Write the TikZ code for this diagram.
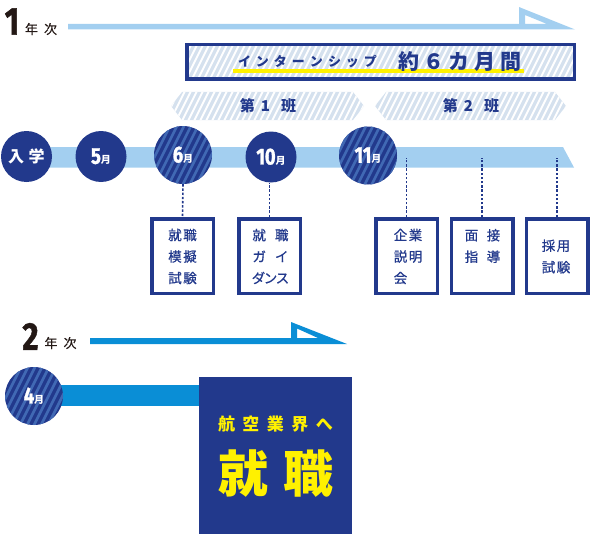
\documentclass[tikz,border=0pt]{standalone}
\usepackage{fontspec}
\setmainfont{Noto Sans CJK JP}
\newfontfamily\numfont{Fira Sans}[FakeStretch=0.8, FakeBold=1.2]
\newfontfamily\jpmid{Noto Sans CJK JP}[FakeBold=0.6]
\ExplSyntaxOn
\NewDocumentCommand\spaced{mm}{
  \bool_set_true:N \l_tmpa_bool
  \tl_map_inline:nn {#2}{
    \bool_if:NF \l_tmpa_bool {\hspace{#1}}
    \bool_set_false:N \l_tmpa_bool
    ##1
  }
}
\ExplSyntaxOff
\definecolor{navy}{HTML}{22398C}
\definecolor{stripeblue}{HTML}{4169B4}
\definecolor{lightband}{HTML}{A3CFF0}
\definecolor{hatchbg}{HTML}{D5E1EE}
\definecolor{blueii}{HTML}{0A8ED6}
\definecolor{yellowc}{HTML}{FFF100}
\definecolor{darktext}{HTML}{231815}
\newcommand\monthlabel[1]{{\numfont\bfseries\fontsize{23}{23}\selectfont #1}{\bfseries\fontsize{10}{10}\selectfont 月}}
\begin{document}
\begin{tikzpicture}[x=1pt,y=-1pt,
  navyhatch/.style={fill=navy, path picture={
     \begin{scope}[shift={(path picture bounding box.center)}]
       \foreach \i in {-84,-77,...,84} \draw[stripeblue, line width=2.6] (\i-20,40) -- (\i+20,-40);
     \end{scope}}},
  lighthatch/.style={fill=hatchbg, path picture={
     \begin{scope}[shift={(path picture bounding box.center)}]
       \foreach \i in {-222,-216,...,222} \draw[white, line width=1.8] (\i-12,24) -- (\i+12,-24);
     \end{scope}}},
  mcircle/.style={circle, inner sep=0pt, minimum size=51pt, fill=navy, text=white},
  hcircle/.style={circle, inner sep=0pt, minimum size=58pt, navyhatch, text=white},
  stepbox/.style={rectangle, draw=navy, line width=3.5pt, fill=white, inner sep=0pt,
     minimum width=61.5pt, minimum height=74.5pt},
  boxtext/.style={text=navy, inner sep=0pt, font=\jpmid\fontsize{13.5}{21.5}\selectfont},
  dashline/.style={navy, line width=1.6pt, dash pattern=on 2.4pt off 1.8pt},
  yearnum/.style={text=darktext, inner sep=0pt, font=\numfont\bfseries\fontsize{39}{39}\selectfont},
  yeartxt/.style={text=darktext, inner sep=0pt, font=\jpmid\fontsize{13}{13}\selectfont},
  bannertext/.style={text=navy, inner sep=0pt, font=\bfseries\fontsize{15}{15}\selectfont},
]
\useasboundingbox (0,0) rectangle (592,535);

% ---------- year 1 header ----------
\node[yearnum] (y1) at (12,21.5) {1};
\node[yeartxt] (y1t) at (41,29) {\spaced{6pt}{年次}};
\fill[lightband, even odd rule] (68,24) -- (519,24) -- (519,7) -- (575,29.5) -- (68,29.5) -- cycle
   (525,15) -- (547,24) -- (525,24) -- cycle;

% ---------- internship box ----------
\node[draw=navy, line width=3.5pt, lighthatch, minimum width=387.5pt, minimum height=34.5pt, inner sep=0pt] (intern) at (380.5,62) {};
\draw[yellowc, line width=4pt] (233,71) -- (524,71);
\node[text=navy, inner sep=0pt, font=\bfseries\fontsize{13}{13}\selectfont] (int1) at (307.5,61.5) {\spaced{5pt}{インターンシップ}};
\node[text=navy, inner sep=0pt, font=\bfseries\fontsize{21}{21}\selectfont] (int2) at (459.5,61.5) {\spaced{4.5pt}{約６カ月間}};

% ---------- banners ----------
\path[lighthatch] (171,106) -- (182,92) -- (353,92) -- (364,106) -- (353,120) -- (182,120) -- cycle;
\node[bannertext] (ban1) at (268,106) {第\hspace{6pt}1\hspace{11pt}班};
\path[lighthatch] (375,106) -- (386,92) -- (555,92) -- (566,106) -- (555,120) -- (386,120) -- cycle;
\node[bannertext] (ban2) at (471,106) {第\hspace{6pt}2\hspace{11pt}班};

% ---------- timeline band ----------
\fill[lightband] (20,147) -- (563,147) -- (574,167.5) -- (20,167.5) -- cycle;
\coordinate (bandline) at (0,158);

\node[mcircle, font=\bfseries\fontsize{16}{16}\selectfont] (cin) at (26.5,156.5) {\spaced{4.5pt}{入学}};
\node[mcircle] (c5) at (101,156.5) {\monthlabel{5}};
\node[hcircle] (c6) at (183,155) {\monthlabel{6}};
\node[mcircle] (c10) at (271,157) {\monthlabel{10}};
\node[hcircle] (c11) at (368,155.5) {\monthlabel{11}};

% ---------- event boxes ----------
\node[stepbox] (b6) at (182.5,256) {};
\node[stepbox] (b10) at (269.5,256) {};
\node[stepbox] (b11a) at (406.5,256) {};
\node[stepbox] (b11b) at (482,256) {};
\node[stepbox] (b11c) at (557,256) {};

\node[boxtext, align=center] (t6) at (182.5,256.5) {\spaced{1.5pt}{就職}\\\spaced{1.5pt}{模擬}\\\spaced{1.5pt}{試験}};
\node[boxtext, align=center] (t10) at (270.5,256.5) {就\hspace{9pt}職\\ガ\hspace{9pt}イ\\\spaced{-1.5pt}{ダンス}};
\node[boxtext, align=left] (t11a) at (408,256.5) {\spaced{1.5pt}{企業}\\\spaced{1.5pt}{説明}\\会};
\node[boxtext, align=center] (t11b) at (482.5,246) {\spaced{8.5pt}{面接}\\\spaced{8.5pt}{指導}};
\node[boxtext, align=center] (t11c) at (556,256.5) {\spaced{1.5pt}{採用}\\\spaced{1.5pt}{試験}};

\draw[dashline] (c6.south) -- (b6.north);
\draw[dashline] (b10.north) -- (b10.north |- c10.south);
\draw[dashline] (b11a.north) -- (b11a.north |- bandline);
\draw[dashline] (b11b.north) -- (b11b.north |- bandline);
\draw[dashline] (b11c.north) -- (b11c.north |- bandline);

% ---------- year 2 ----------
\node[yearnum] (y2) at (30.5,336.5) {2};
\node[yeartxt] (y2t) at (60.5,343) {\spaced{6pt}{年次}};
\fill[blueii, even odd rule] (90,338) -- (291,338) -- (291,322) -- (347,344) -- (90,344) -- cycle
   (297,328.5) -- (318,338) -- (297,338) -- cycle;

\node[rectangle, fill=navy, inner sep=0pt, minimum width=153pt, minimum height=157pt] (job) at (275.5,455.5) {};
\coordinate (c4pos) at (34,396);
\fill[blueii] (c4pos |- 0,384.5) rectangle (job.west |- 0,405.5);
\node[hcircle] (c4) at (c4pos) {\monthlabel{4}};

\node[text=yellowc, inner sep=0pt, font=\bfseries\fontsize{17}{17}\selectfont] (jt1) at (275.5,424.5) {\spaced{7.5pt}{航空業界へ}};
\node[text=yellowc, inner sep=0pt, font=\bfseries\fontsize{50}{50}\selectfont] (jt2) at (275.5,473.5) {\spaced{15pt}{就職}};
\end{tikzpicture}
\end{document}
